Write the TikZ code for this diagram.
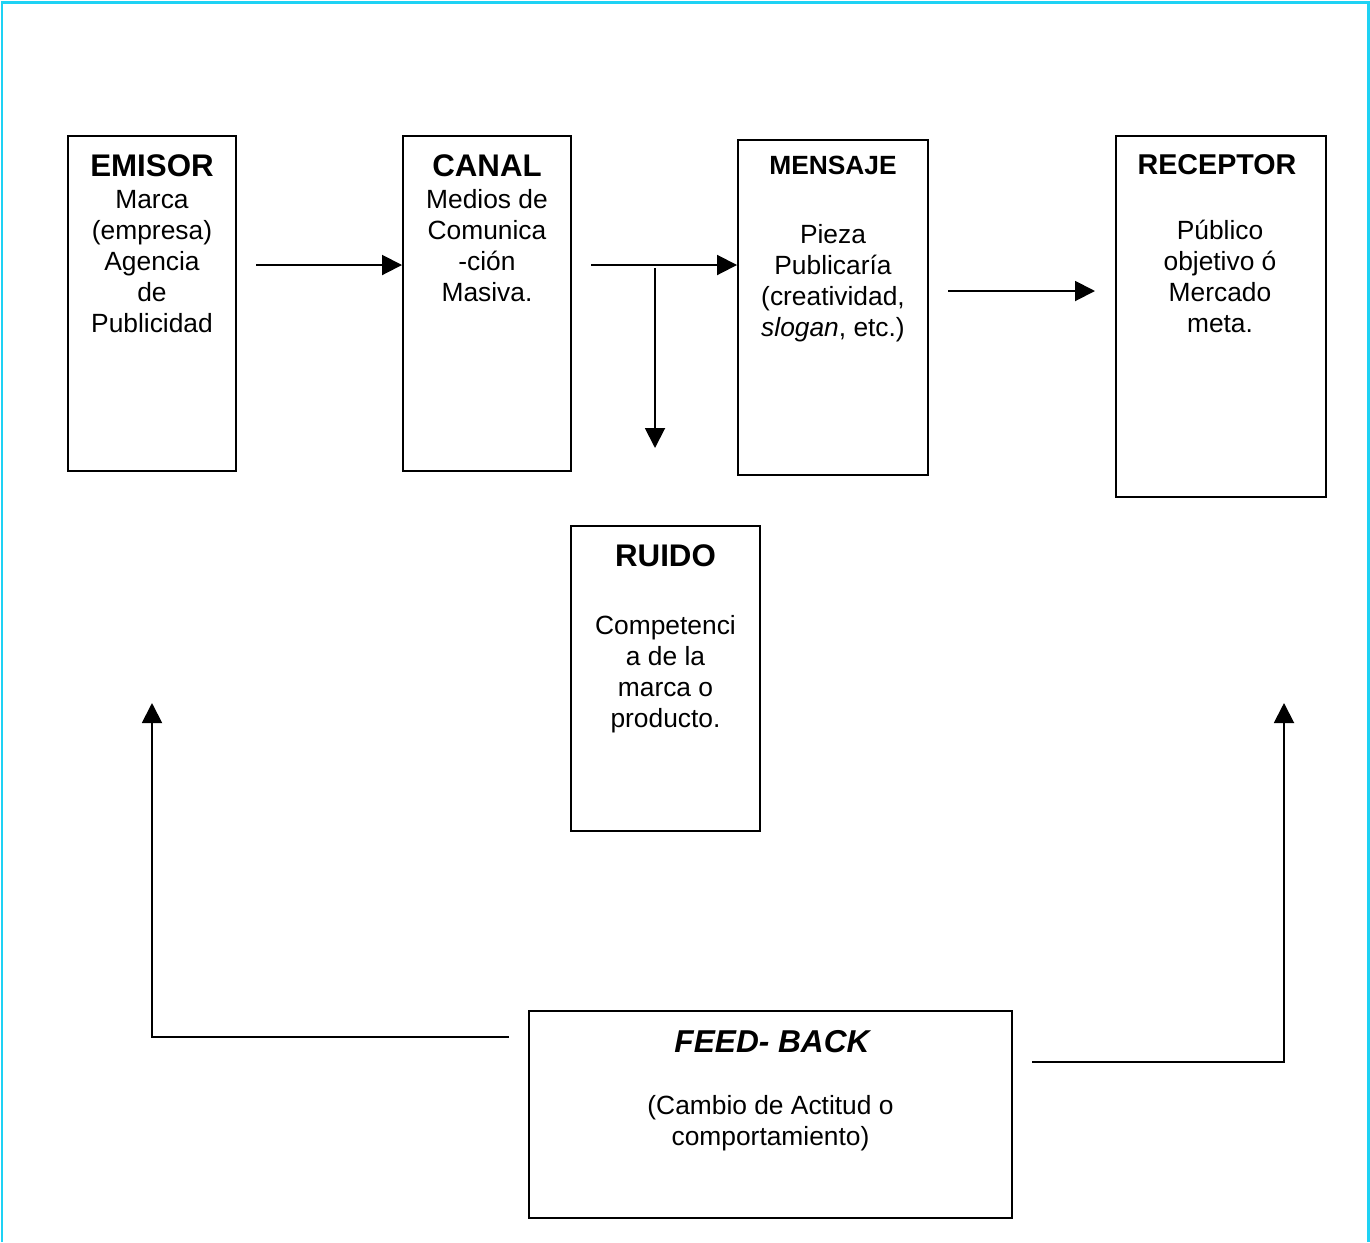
\documentclass[tikz,border=0pt]{standalone}
\usepackage{fontspec}
\setmainfont{Liberation Sans}
\usetikzlibrary{arrows.meta,calc}
\definecolor{framecyan}{HTML}{1ED2F4}
\newlength{\pxunit}
\setlength{\pxunit}{0.02cm}

\begin{document}
\begin{tikzpicture}[x=0.02cm, y=-0.02cm,
    caja/.style={draw=black, line width=1.1pt, inner sep=0pt},
    titulo/.style={font=\fontsize{17.8}{21}\selectfont\bfseries, anchor=base, inner sep=0pt},
    cuerpo/.style={font=\fontsize{15}{17.64}\selectfont, align=center, anchor=north, inner sep=0pt},
    flecha/.style={line width=1.1pt, -{Triangle[length=0.4cm, width=0.4cm]}}]

  % Page frame
  \useasboundingbox (0,0) rectangle (1370,1242);
  \draw[framecyan, line width=1.7pt] (2,1242) -- (2,2) -- (1368,2) -- (1368,1242);

  % Boxes: name/center x/center y/width/height
  \foreach \n/\cx/\cy/\w/\h in {emisor/152/303.5/168/335, canal/487/303.5/168/335,
      mensaje/833/307.5/190/335, receptor/1221/316.5/210/361,
      ruido/665.5/678.5/189/305, feedback/770.5/1114.5/483/207} {
    \node[caja, minimum width=\w\pxunit, minimum height=\h\pxunit] (\n) at (\cx,\cy) {};
  }

  % Titles
  \node[titulo] (emisorT) at ([yshift=-41\pxunit]emisor.north) {EMISOR};
  \node[titulo] (canalT) at ([yshift=-41\pxunit]canal.north) {CANAL};
  \node[titulo, font=\fontsize{15}{18}\selectfont\bfseries] (mensajeT) at ([yshift=-35\pxunit]mensaje.north) {MENSAJE};
  \node[titulo, font=\fontsize{16.3}{19}\selectfont\bfseries] (receptorT) at ([xshift=-4\pxunit, yshift=-39\pxunit]receptor.north) {RECEPTOR};
  \node[titulo] (ruidoT) at ([yshift=-41\pxunit]ruido.north) {RUIDO};
  \node[titulo, font=\fontsize{18}{21}\selectfont\bfseries\itshape] (feedbackT) at ([xshift=1.5\pxunit, yshift=-42\pxunit]feedback.north) {FEED- BACK};

  % Texts
  \node[cuerpo] (emisorB) at ([yshift=-55\pxunit]emisor.north) {Marca\\(empresa)\\Agencia\\de\\Publicidad};
  \node[cuerpo] (canalB) at ([yshift=-54\pxunit]canal.north) {Medios de\\Comunica\\-ción\\Masiva.};
  \node[cuerpo] (mensajeB) at ([yshift=-85\pxunit]mensaje.north) {Pieza\\Publicaría\\(creatividad,\\\textit{slogan}, etc.)};
  \node[cuerpo] (receptorB) at ([xshift=-1\pxunit, yshift=-84.5\pxunit]receptor.north) {Público\\objetivo ó\\Mercado\\meta.};
  \node[cuerpo] (ruidoB) at ([yshift=-90\pxunit]ruido.north) {Competenci\\a de la\\marca o\\producto.};
  \node[cuerpo] (feedbackB) at ([yshift=-85\pxunit]feedback.north) {(Cambio de Actitud o\\comportamiento)};

  % Flow arrows
  \coordinate (ecIni) at (256,265);
  \draw[flecha] (ecIni) -- (ecIni -| canal.west);
  \coordinate (cmIni) at (591,265);
  \draw[flecha] (cmIni) -- (cmIni -| mensaje.west);
  \coordinate (ruidoIni) at (655,268);
  \coordinate (ruidoFin) at (655,448);
  \draw[flecha] (ruidoIni) -- (ruidoFin);
  \coordinate (mrIni) at (948,291);
  \coordinate (mrFin) at (1095,291);
  \draw[flecha] (mrIni) -- (mrFin);

  % Feedback arrows
  \coordinate (fbIzq) at (509,1037);
  \coordinate (emisorRet) at (152,703);
  \draw[flecha] (fbIzq) -| (emisorRet);
  \coordinate (fbDer) at (1032,1062);
  \coordinate (receptorRet) at (1284,703);
  \draw[flecha] (fbDer) -| (receptorRet);

\end{tikzpicture}
\end{document}
